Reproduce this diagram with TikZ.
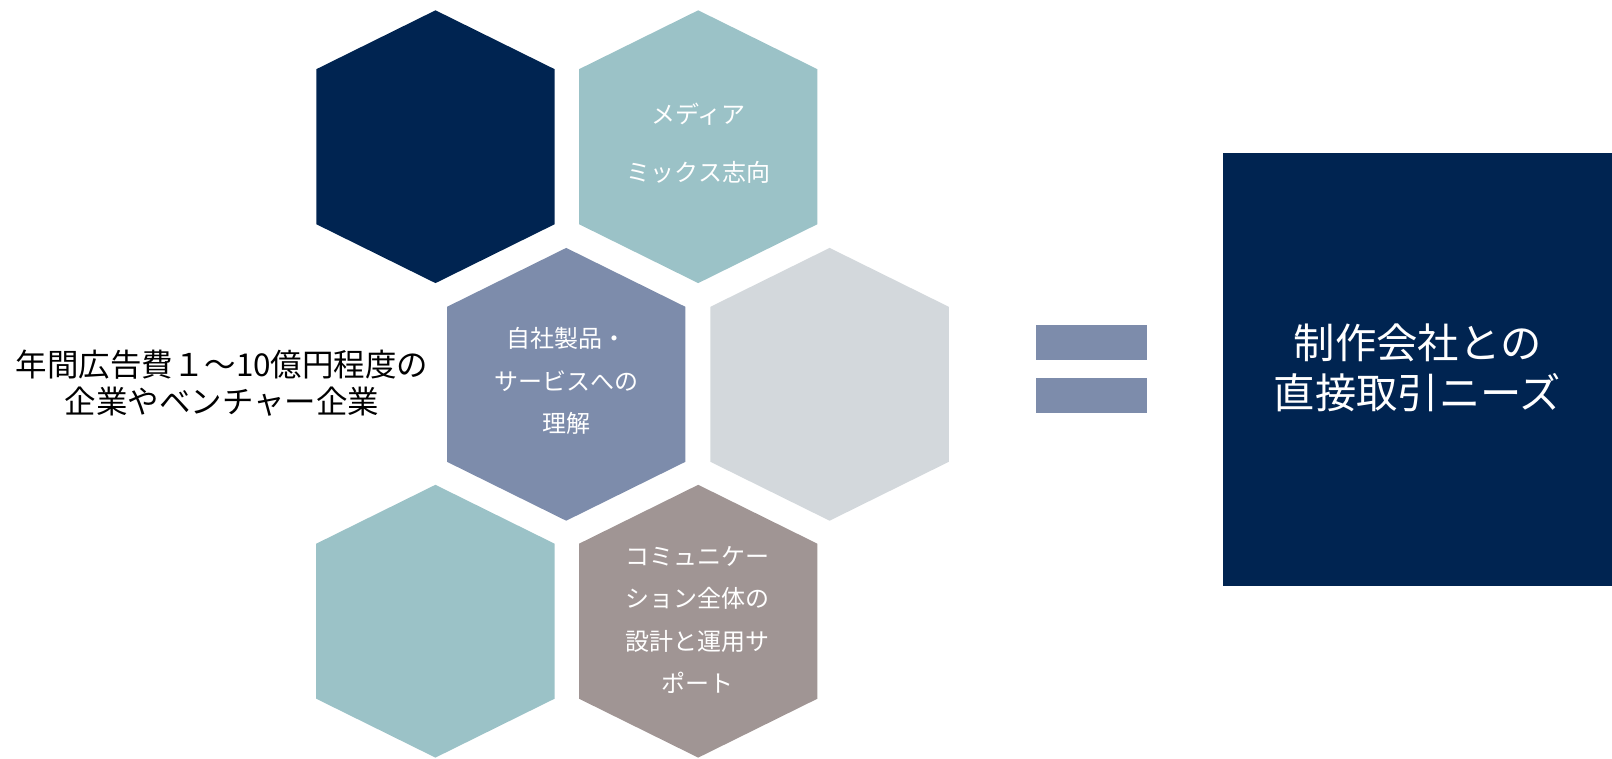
\documentclass[tikz,border=0pt]{standalone}
\usepackage{fontspec}
\setmainfont{Noto Sans CJK JP}
\definecolor{navy}{HTML}{002451}
\definecolor{teal}{HTML}{9BC2C7}
\definecolor{slate}{HTML}{7D8CAB}
\definecolor{lgrey}{HTML}{D3D8DC}
\definecolor{taupe}{HTML}{A09594}
\newcommand\myhex[3]{%
  \fill[#3, shift={(#2)}] (0,-136.4) -- (119.2,-77.5) -- (119.2,77.5) -- (0,136.4) -- (-119.2,77.5) -- (-119.2,-77.5) -- cycle;
  \coordinate (#1) at (#2);}
\tikzset{
  hextext/.style={text=white, align=center, inner sep=0pt, font=\fontsize{18}{31.9}\selectfont},
}
\begin{document}
\begin{tikzpicture}[x=0.75pt,y=-0.75pt]
\useasboundingbox (0,0) rectangle (1612,758);
% hexagons
\myhex{h1}{435.5,146.7}{navy}
\myhex{h2}{698.2,146.7}{teal}
\myhex{h3}{566.2,384.3}{slate}
\myhex{h4}{829.6,384.3}{lgrey}
\myhex{h5}{435.4,621.2}{teal}
\myhex{h6}{698.2,621.2}{taupe}
\node[hextext] (t2) at (698.5,143) {メディア\\[12pt]ミックス志向};
\node[hextext] (t3) at (566.5,381) {自社製品・\\サービスへの\\理解};
\node[hextext] (t6) at (697.5,620) {コミュニケー\\ション全体の\\設計と運用サ\\ポート};
% left text
\node[align=center, inner sep=0pt, font=\fontsize{23.6}{27.8}\selectfont] (lt) at (222,383.5) {年間広告費１～10億円程度の\\企業やベンチャー企業};
% equal sign
\fill[slate] (1036,325) rectangle (1146.5,360);
\fill[slate] (1036,378) rectangle (1146.5,413.3);
\coordinate (eq1) at (1091,342.5);
\coordinate (eq2) at (1091,395.6);
% result box
\fill[navy] (1223,152.7) rectangle (1612,586);
\node[text=white, align=center, inner sep=0pt, font=\fontsize{31}{37.5}\selectfont] (res) at (1417.5,368) {制作会社との\\直接取引ニーズ};
\end{tikzpicture}
\end{document}
